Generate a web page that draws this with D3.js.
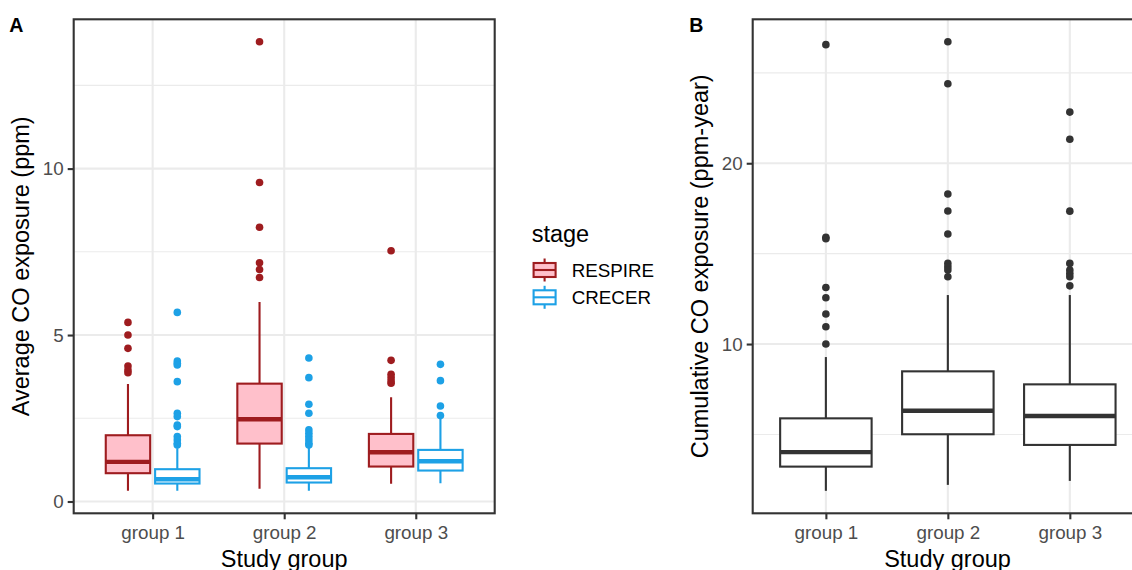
<!DOCTYPE html>
<html><head><meta charset="utf-8">
<script src="https://cdn.jsdelivr.net/npm/d3@7"></script>
<style>body{margin:0;background:#fff}svg{display:block;font-family:"Liberation Sans",Arial,sans-serif}</style>
</head><body><svg id="c" width="1132" height="570"></svg>
<script>
const groups = ["group 1", "group 2", "group 3"];
const stages = ["RESPIRE", "CRECER"];
// Panel A: [lower whisker, Q1, median, Q3, upper whisker]
const respireStats = [[0.32, 0.85, 1.19, 1.99, 3.53], [0.38, 1.74, 2.47, 3.54, 5.99], [0.53, 1.05, 1.48, 2.03, 3.13]];
const crecerStats  = [[0.32, 0.54, 0.67, 0.97, 1.60], [0.32, 0.57, 0.73, 1.00, 1.65], [0.55, 0.93, 1.21, 1.55, 2.48]];
const respireOut = [[5.38, 5.0, 4.6, 4.07, 3.95, 3.87], [13.81, 9.58, 8.24, 7.17, 6.97, 6.73], [7.53, 4.24, 3.82, 3.72, 3.62, 3.55]];
const crecerOut  = [[5.68, 4.22, 4.15, 4.1, 3.6, 2.65, 2.55, 2.3, 2.25, 1.95, 1.85, 1.75, 1.7],
                    [4.31, 3.72, 2.92, 2.65, 2.15, 2.05, 1.95, 1.85, 1.75, 1.7],
                    [4.12, 3.63, 2.87, 2.58]];
const ticksA = [0, 5, 10];
const minorA = [2.5, 7.5, 12.5];
// Panel B
const cumStats = [[1.88, 3.22, 4.02, 5.89, 9.28], [2.21, 5.01, 6.31, 8.49, 12.71], [2.43, 4.42, 6.02, 7.77, 12.71]];
const cumOut = [[26.56, 15.9, 15.82, 13.13, 12.56, 11.66, 10.96, 10.0],
                [26.72, 24.4, 18.3, 17.36, 16.09, 14.46, 14.27, 14.09, 13.72],
                [22.83, 21.33, 17.35, 14.46, 14.09, 13.9, 13.72, 13.22]];
const ticksB = [10, 20];
const minorB = [5, 15, 25];

const colors = {RESPIRE: {stroke: "#9E1C1F", fill: "#FFC0CB"}, CRECER: {stroke: "#1DA1E6", fill: "#FFFFFF"}};
const svg = d3.select("#c");
const TOP = 19.3, BOT = 513.3;
const LW = 2.1, FONT_T = 23.5, FONT_TK = 18.8;

function domainOf(stats, outs) {
  const all = stats.flat().concat(outs.flat());
  const lo = d3.min(all), hi = d3.max(all), pad = (hi - lo) * 0.05;
  return [lo - pad, hi + pad];
}

function panel(opts) {
  const {x0, x1, stats, outs, ticks, minor, title, label, labelX, titleX} = opts;
  const g = svg.append("g");
  const x = d3.scalePoint().domain(groups).range([x0, x1]).padding(0.6);
  const y = d3.scaleLinear().domain(domainOf(stats, outs)).range([BOT, TOP]);
  const step = x.step();
  const clip = "clip" + label;
  svg.append("clipPath").attr("id", clip).append("rect").attr("x", x0).attr("y", TOP).attr("width", x1 - x0).attr("height", BOT - TOP);
  const pg = g.append("g").attr("clip-path", `url(#${clip})`);
  pg.selectAll(".mn").data(minor).join("line").attr("x1", x0).attr("x2", x1)
    .attr("y1", d => y(d)).attr("y2", d => y(d)).attr("stroke", "#EBEBEB").attr("stroke-width", 1.1);
  pg.selectAll(".mj").data(ticks).join("line").attr("x1", x0).attr("x2", x1)
    .attr("y1", d => y(d)).attr("y2", d => y(d)).attr("stroke", "#EBEBEB").attr("stroke-width", LW);
  pg.selectAll(".vx").data(groups).join("line").attr("x1", d => x(d)).attr("x2", d => x(d))
    .attr("y1", TOP).attr("y2", BOT).attr("stroke", "#EBEBEB").attr("stroke-width", LW);
  // boxes
  opts.series.forEach(s => {
    const bw = s.width * step, off = s.offset * step;
    groups.forEach((gr, i) => {
      const cx = x(gr) + off, st = s.stats[i];
      const bg = pg.append("g");
      bg.append("line").attr("x1", cx).attr("x2", cx).attr("y1", y(st[0])).attr("y2", y(st[1])).attr("stroke", s.stroke).attr("stroke-width", LW);
      bg.append("line").attr("x1", cx).attr("x2", cx).attr("y1", y(st[3])).attr("y2", y(st[4])).attr("stroke", s.stroke).attr("stroke-width", LW);
      bg.append("rect").attr("x", cx - bw / 2).attr("width", bw).attr("y", y(st[3])).attr("height", y(st[1]) - y(st[3]))
        .attr("fill", s.fill).attr("stroke", s.stroke).attr("stroke-width", LW);
      bg.append("line").attr("x1", cx - bw / 2).attr("x2", cx + bw / 2).attr("y1", y(st[2])).attr("y2", y(st[2]))
        .attr("stroke", s.stroke).attr("stroke-width", LW * 2.1);
      bg.selectAll("circle").data(s.outs[i]).join("circle").attr("cx", cx).attr("cy", d => y(d)).attr("r", 3.8).attr("fill", s.stroke);
    });
  });
  // border
  g.append("rect").attr("x", x0).attr("y", TOP).attr("width", x1 - x0).attr("height", BOT - TOP)
    .attr("fill", "none").attr("stroke", "#333333").attr("stroke-width", LW);
  // axes
  const ya = g.append("g").attr("transform", `translate(${x0},0)`)
    .call(d3.axisLeft(y).tickValues(ticks).tickSize(6).tickPadding(4).tickFormat(d3.format("d")));
  ya.select(".domain").remove();
  ya.selectAll("line").attr("stroke", "#333333").attr("stroke-width", LW);
  ya.selectAll("text").attr("fill", "#4D4D4D").style("font-size", FONT_TK + "px").attr("dy", "0.34em");
  const xa = g.append("g").attr("transform", `translate(0,${BOT})`)
    .call(d3.axisBottom(x).tickSize(6).tickPadding(5));
  xa.select(".domain").remove();
  xa.selectAll("line").attr("stroke", "#333333").attr("stroke-width", LW);
  xa.selectAll("text").attr("fill", "#4D4D4D").style("font-size", FONT_TK + "px").attr("dy", null).attr("y", 26);
  // titles
  g.append("text").attr("x", opts.xTitleX).attr("y", 567)
    .attr("text-anchor", "middle").style("font-size", FONT_T + "px").attr("fill", "#000").text("Study group");
  g.append("text").attr("transform", `translate(${titleX},${(TOP + BOT) / 2}) rotate(-90)`)
    .attr("text-anchor", "middle").style("font-size", FONT_T + "px").attr("fill", "#000").text(title);
  svg.append("text").attr("x", labelX).attr("y", 31.7).style("font-size", "19.6px").style("font-weight", "bold").text(label);
}

panel({x0: 73.7, x1: 494.7, stats: respireStats.concat(crecerStats), outs: respireOut.concat(crecerOut),
  ticks: ticksA, minor: minorA, title: "Average CO exposure (ppm)", label: "A", labelX: 9.3, titleX: 29, xTitleX: 284.2,
  series: [
    {stats: respireStats, outs: respireOut, stroke: colors.RESPIRE.stroke, fill: colors.RESPIRE.fill, width: 0.3375, offset: -0.1875},
    {stats: crecerStats, outs: crecerOut, stroke: colors.CRECER.stroke, fill: colors.CRECER.fill, width: 0.3375, offset: 0.1875}
  ]});

panel({x0: 752.7, x1: 1143, stats: cumStats, outs: cumOut,
  ticks: ticksB, minor: minorB, title: "Cumulative CO exposure (ppm-year)", label: "B", labelX: 689.3, titleX: 708, xTitleX: 947.5,
  series: [{stats: cumStats, outs: cumOut, stroke: "#333333", fill: "#FFFFFF", width: 0.75, offset: 0}]});

// legend
const lg = svg.append("g");
lg.append("text").attr("x", 531.7).attr("y", 241.7).style("font-size", FONT_T + "px").text("stage");
stages.forEach((s, i) => {
  const cy = 270 + i * 27.3, cx = 544.6, c = colors[s];
  lg.append("line").attr("x1", cx).attr("x2", cx).attr("y1", cy - 11.5).attr("y2", cy + 11.5).attr("stroke", c.stroke).attr("stroke-width", LW);
  lg.append("rect").attr("x", cx - 11).attr("y", cy - 7).attr("width", 22).attr("height", 14).attr("fill", c.fill).attr("stroke", c.stroke).attr("stroke-width", LW);
  lg.append("line").attr("x1", cx - 11).attr("x2", cx + 11).attr("y1", cy).attr("y2", cy).attr("stroke", c.stroke).attr("stroke-width", LW);
  lg.append("text").attr("x", 571.7).attr("y", cy + 6.8).style("font-size", FONT_TK + "px").text(s);
});
</script></body></html>
